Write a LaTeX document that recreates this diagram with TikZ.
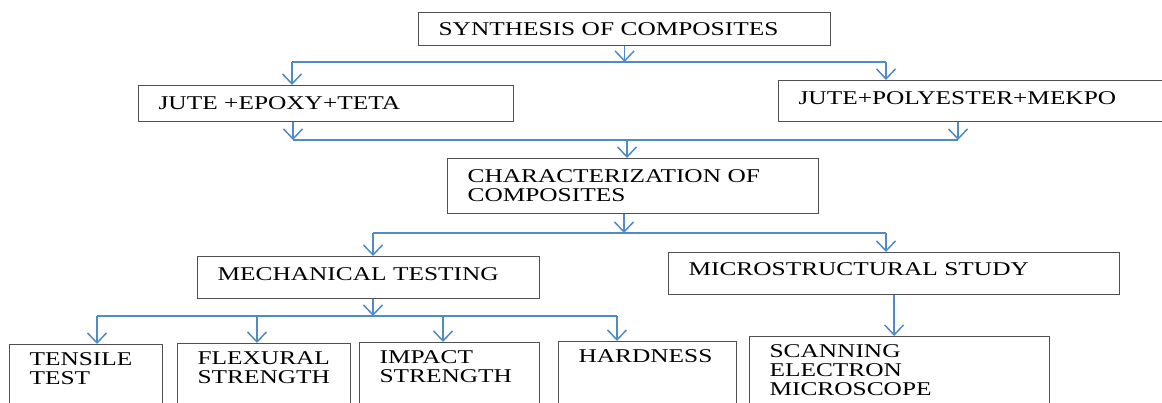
\documentclass[tikz,border=0pt]{standalone}
\usepackage{fontspec}
\setmainfont{Liberation Serif}[FakeStretch=1.3]
\usetikzlibrary{arrows.meta}
\definecolor{flowblue}{RGB}{79,139,199}
\definecolor{boxgray}{RGB}{80,80,80}

\begin{document}
\begin{tikzpicture}[x=1pt, y=-1pt,
  stage/.style={draw=boxgray, line width=1.2pt, anchor=north west, inner xsep=20pt, inner ysep=0pt, align=left, text width=#1, font=\fontsize{19.5}{19}\selectfont},
  test/.style={stage=#1, inner ysep=8pt, text depth=70pt},
  bus/.style={draw=flowblue, line width=1.5pt},
  flow/.style={bus, -{Straight Barb[length=10pt, width=19pt]}}]
\useasboundingbox (0,0) rectangle (1162,403);
\clip (0,0) rectangle (1162,403);

\node[stage=372pt, minimum height=33pt] (synth) at (418,12) {SYNTHESIS OF COMPOSITES};
\node[stage=335pt, minimum height=36pt] (jepoxy) at (138,85) {JUTE +EPOXY+TETA};
\node[stage=372pt, minimum height=41pt, text depth=7pt] (jpoly) at (778,80) {JUTE+POLYESTER+MEKPO};
\node[stage=331pt, minimum height=55pt] (charac) at (447,158) {CHARACTERIZATION OF\\COMPOSITES};
\node[stage=302pt, minimum height=42pt, text depth=8pt] (mech) at (197,256) {MECHANICAL TESTING};
\node[stage=411pt, minimum height=42pt, text depth=10pt] (micro) at (668,252) {MICROSTRUCTURAL STUDY};
\node[test=113pt] (tensile) at (9,344) {TENSILE\\TEST};
\node[test=133pt] (flexural) at (177,343) {FLEXURAL\\STRENGTH};
\node[test=140pt] (impact) at (359,342) {IMPACT\\STRENGTH};
\node[test=138pt] (hardness) at (558,341) {HARDNESS};
\node[test=260pt] (sem) at (749,336) {SCANNING\\ELECTRON\\MICROSCOPE};

\coordinate (b1l) at (292,62);
\coordinate (b1r) at (886,62);
\draw[flow] (synth.south) -- (synth.south |- b1l);
\draw[bus] (b1l) -- (b1r);
\draw[flow] (b1l) -- (b1l |- jepoxy.north);
\draw[flow] (b1r) -- (b1r |- jpoly.north);

\coordinate (b2l) at (293,140);
\coordinate (b2m) at (627,140);
\coordinate (b2r) at (958,140);
\draw[flow] (b2l |- jepoxy.south) -- (b2l);
\draw[flow] (b2r |- jpoly.south) -- (b2r);
\draw[bus] (b2l) -- (b2r);
\draw[flow] (b2m) -- (b2m |- charac.north);

\coordinate (b3l) at (373,233);
\coordinate (b3m) at (624,233);
\coordinate (b3r) at (886,233);
\draw[flow] (b3m |- charac.south) -- (b3m);
\draw[bus] (b3l) -- (b3r);
\draw[flow] (b3l) -- (b3l |- mech.north);
\draw[flow] (b3r) -- (b3r |- micro.north);

\coordinate (b4m) at (373,316);
\draw[flow] (b4m |- mech.south) -- (b4m);
\foreach \n/\x in {tensile/97, flexural/257, impact/443, hardness/617}{
  \coordinate (t\n) at (\x,316);
  \draw[flow] (t\n) -- (t\n |- \n.north);
}
\draw[bus] (ttensile) -- (thardness);

\draw[flow] (micro.south) -- (micro.south |- sem.north);
\end{tikzpicture}
\end{document}
